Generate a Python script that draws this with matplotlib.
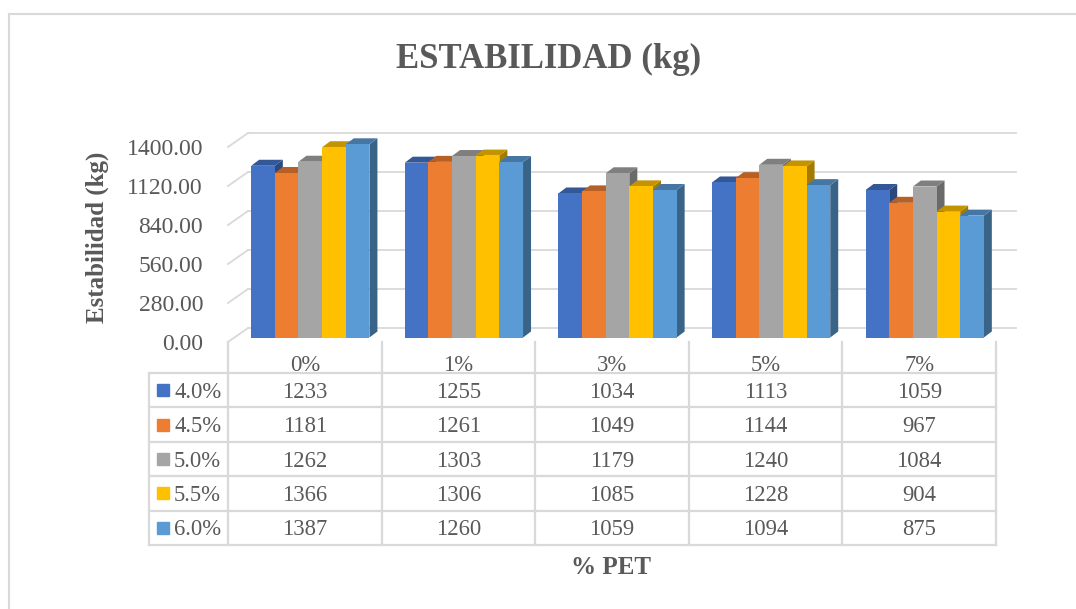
import matplotlib
matplotlib.use("Agg")
import matplotlib.pyplot as plt
import matplotlib.transforms as mtransforms
from matplotlib.patches import Polygon
import numpy as np

# ---------------- data ----------------
categories = ["0%", "1%", "3%", "5%", "7%"]
series_names = ["4.0%", "4.5%", "5.0%", "5.5%", "6.0%"]
s40 = [1233, 1255, 1034, 1113, 1059]
s45 = [1181, 1261, 1049, 1144, 967]
s50 = [1262, 1303, 1179, 1240, 1084]
s55 = [1366, 1306, 1085, 1228, 904]
s60 = [1387, 1260, 1059, 1094, 875]
yticks = [0, 280, 560, 840, 1120, 1400]
title = "ESTABILIDAD (kg)"
ylabel = "Estabilidad (kg)"
xlabel = "% PET"

series = [s40, s45, s50, s55, s60]
colors = ["#4472C4", "#ED7D31", "#A5A5A5", "#FFC000", "#5B9BD5"]

# ---------------- style ----------------
W, H = 1076, 609
FONT = "Liberation Serif"
TXT = "#595959"
GRID = "#D9D9D9"
plt.rcParams["font.family"] = [FONT, "DejaVu Serif"]

fig = plt.figure(figsize=(W / 100, H / 100), dpi=100)
fig.patch.set_facecolor("white")


def fx(px):
    return px / W


def fy(py):
    return 1 - py / H


# outer chart border (cropped)
fig.add_artist(plt.Line2D([fx(8.5), fx(8.5)], [fy(13.5), 0], color=GRID, lw=1.5))
fig.add_artist(plt.Line2D([fx(8.5), 1], [fy(13.5), fy(13.5)], color=GRID, lw=1.5))

# front plane axes
x0, x1 = 228, 996
y0, y1 = 342, 147
ax = fig.add_axes([fx(x0), fy(y0), fx(x1 - x0), (y0 - y1) / H])
ax.set_xlim(-0.5, len(categories) - 0.5)
ax.set_ylim(0, yticks[-1])
for s in ax.spines.values():
    s.set_visible(False)
ax.patch.set_alpha(0)
ax.set_xticks([])
ax.set_yticks(yticks)
ax.set_yticklabels([f"{v:.2f}" for v in yticks], color=TXT, fontsize=17)
ax.tick_params(axis="y", length=0, pad=18)

fig.canvas.draw()
tD = ax.transData

BACK = np.array([20.0, 14.0])      # depth offset of back wall (px, right/up)
BAR0 = np.array([5.5, 4.5])        # offset of bars' front face
BARD = np.array([8.0, 6.0])        # bar depth


def disp(x, y, off=(0, 0)):
    p = tD.transform((x, y))
    return p + np.asarray(off)


ident = mtransforms.IdentityTransform()

# back wall gridlines + left side wall diagonals
for v in yticks:
    a = disp(-0.5, v, BACK)
    b = disp(len(categories) - 0.5, v, BACK)
    fig.add_artist(plt.Line2D([a[0], b[0]], [a[1], b[1]], transform=ident,
                              color=GRID, lw=1.3, zorder=1))
    f = disp(-0.5, v)
    fig.add_artist(plt.Line2D([f[0], a[0]], [f[1], a[1]], transform=ident,
                              color=GRID, lw=1.3, zorder=1))


def shade(c, k):
    r, g, b = matplotlib.colors.to_rgb(c)
    return (r * k, g * k, b * k)


bw = 0.154
nser = len(series)
gw = bw * nser
z = 2
for i in range(len(categories)):
    for j in range(nser):
        h = series[j][i]
        xl = i - gw / 2 + j * bw
        xr = xl + bw
        c = colors[j]
        fl0 = disp(xl, 0, BAR0)
        fr0 = disp(xr, 0, BAR0)
        fl1 = disp(xl, h, BAR0)
        fr1 = disp(xr, h, BAR0)
        side = [fr0, fr0 + BARD, fr1 + BARD, fr1]
        top = [fl1, fr1, fr1 + BARD, fl1 + BARD]
        front = [fl0, fr0, fr1, fl1]
        for pts, col in ((side, shade(c, 0.64)), (top, shade(c, 0.77)), (front, c)):
            fig.add_artist(Polygon(pts, closed=True, transform=ident,
                                   facecolor=col, edgecolor="none", zorder=z))
            z += 0.001

# ---------------- data table ----------------
tx0, ty1 = 149, 545
colw = (x1 - x0) / len(categories)
leg_w = (x0 - tx0) / colw
row_h = (ty1 - 373) / nser
hdr = (373 - y0) / row_h
tax = fig.add_axes([fx(tx0), fy(ty1), fx(x1 - tx0), (ty1 - y0) / H])
xmin = -0.5 - leg_w
xmax = len(categories) - 0.5
tax.set_xlim(xmin, xmax)
tax.set_ylim(nser, -hdr)
tax.axis("off")

lw_t = 1.6
for r in range(nser + 1):
    tax.plot([xmin, xmax], [r, r], color=GRID, lw=lw_t, solid_capstyle="projecting", clip_on=False)
tax.plot([xmin, xmin], [0, nser], color=GRID, lw=lw_t, solid_capstyle="projecting", clip_on=False)
for k in range(len(categories) + 1):
    xk = -0.5 + k
    tax.plot([xk, xk], [-hdr, nser], color=GRID, lw=lw_t, clip_on=False)

FS = 16.3
for i, cat in enumerate(categories):
    tax.text(i, -0.22, cat, ha="center", va="center", fontsize=FS, color=TXT)
for j, name in enumerate(series_names):
    yc = j + 0.5
    tax.plot([xmin + 0.091], [yc], marker="s", markersize=8.6, color=colors[j],
             linestyle="none", clip_on=False)
    tax.text(xmin + 0.163, yc + 0.06, name, ha="left", va="center", fontsize=FS, color=TXT)
    for i in range(len(categories)):
        tax.text(i, yc + 0.06, f"{series[j][i]}", ha="center", va="center", fontsize=FS, color=TXT)

# ---------------- titles ----------------
fig.text(fx(549), fy(68), title, ha="center", va="baseline", fontsize=25,
         fontweight="bold", color=TXT)
fig.text(fx(97), fy(237), ylabel, ha="center", va="center", rotation=90,
         fontsize=18, fontweight="bold", color=TXT)
fig.text(fx(611), fy(567), xlabel, ha="center", va="center", fontsize=18,
         fontweight="bold", color=TXT)

fig.savefig("out.png", dpi=100, facecolor="white")
